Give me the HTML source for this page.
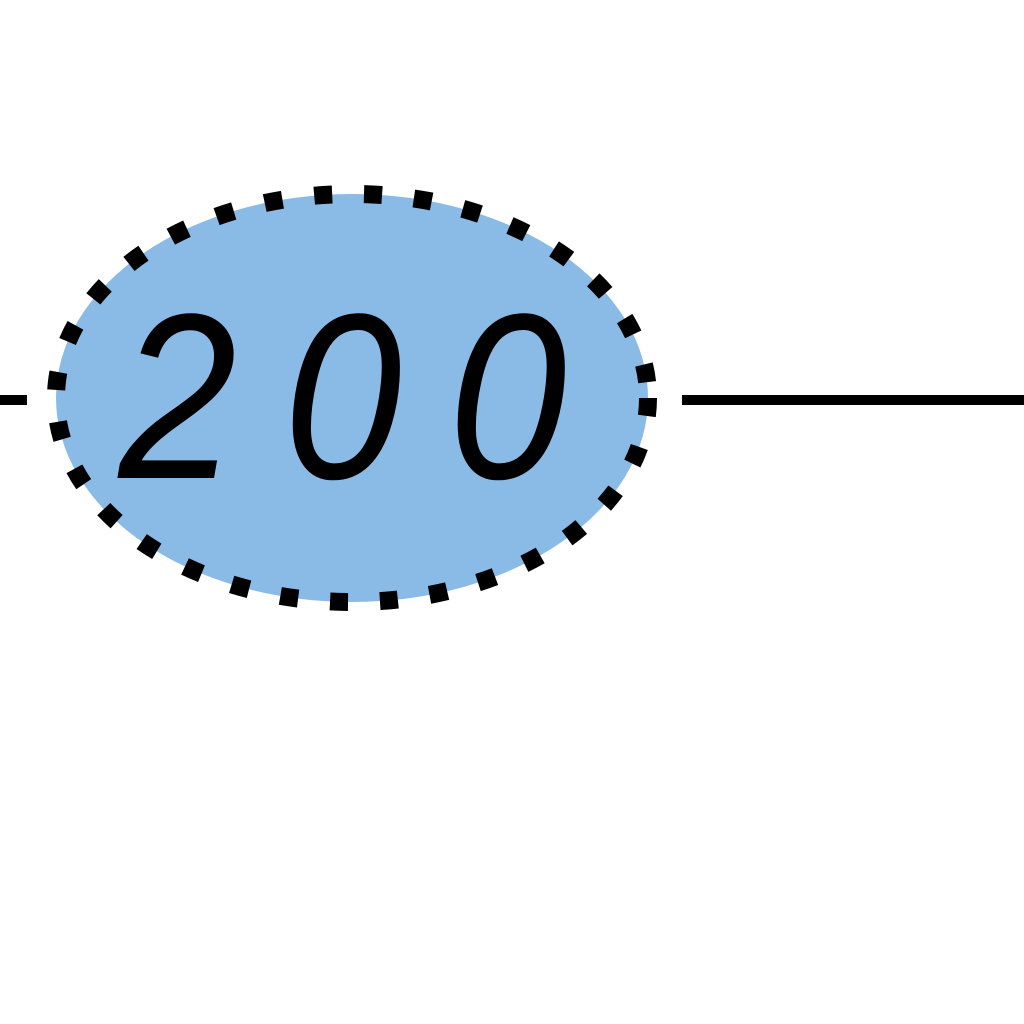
<!DOCTYPE html>
<html><head><meta charset="utf-8"><style>
html,body{margin:0;padding:0;background:#fff;width:1024px;height:1024px;overflow:hidden}
</style></head><body>
<svg width="1024" height="1024" viewBox="0 0 1024 1024" xmlns="http://www.w3.org/2000/svg">
<line x1="0" y1="400" x2="27" y2="400" stroke="#000" stroke-width="10"/>
<line x1="682" y1="400" x2="1024" y2="400" stroke="#000" stroke-width="10"/>
<ellipse cx="352" cy="398" rx="296" ry="204" fill="#8ABBE6"/>
<ellipse cx="352" cy="398" rx="296" ry="204" fill="none" stroke="#000" stroke-width="18" stroke-dasharray="18 32"/>
<g transform="translate(366,478) scale(0.9,1)">
<text x="0" y="0" text-anchor="middle" font-family="Liberation Sans, sans-serif" font-style="italic" font-size="236" letter-spacing="52" fill="#000">200</text>
</g>
</svg>
</body></html>
